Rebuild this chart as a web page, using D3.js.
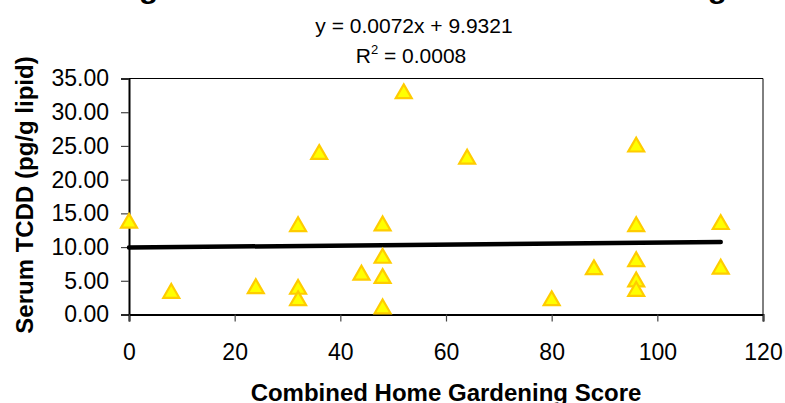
<!DOCTYPE html>
<html>
<head>
<meta charset="utf-8">
<script src="https://cdn.jsdelivr.net/npm/d3@7.9.0/dist/d3.min.js"></script>
<style>
  body { margin: 0; background: #fff; }
  svg { display: block; font-family: Arial, "Liberation Sans", sans-serif; }
</style>
</head>
<body>
<svg id="chart" width="785" height="403"></svg>
<script>
// gardening score (x) and serum TCDD (y)
const gardenScore = [0, 8, 24, 32, 32, 32, 36, 44, 48, 48, 48, 48, 52, 64, 80, 88, 96, 96, 96, 96, 96, 112, 112];
const tcdd = [13.9, 3.5, 4.2, 4.1, 2.4, 13.4, 24.1, 6.2, 13.5, 8.7, 5.7, 1.2, 33.1, 23.4, 2.4, 7.0, 25.2, 13.4, 8.2, 5.2, 3.8, 13.7, 7.1];

const xTicks = [0, 20, 40, 60, 80, 100, 120];
const yTicks = [0, 5, 10, 15, 20, 25, 30, 35];

const slope = 0.0072;
const intercept = 9.9321;
const eqText = "y = 0.0072x + 9.9321";
const r2Value = "0.0008";

const titleText = "Regression of Serum TCDD vs. Gardening";
const xTitle = "Combined Home Gardening Score";
const yTitle = "Serum TCDD (pg/g lipid)";

const svg = d3.select('#chart');
const plotL = 129, plotR = 763, plotT = 78.5, plotB = 314.5;

let x = d3.scaleLinear().domain([0, 120]).range([plotL, plotR]);
let y = d3.scaleLinear().domain([0, 35]).range([plotB, plotT]);

// title, mostly cut off at the top of the picture
svg.append('text')
    .attr('x', 99).attr('y', -2)
    .attr('font-size', 28).attr('font-weight', 'bold')
    .attr('textLength', 628).attr('lengthAdjust', 'spacingAndGlyphs')
    .text(titleText);

// frame top/right
svg.append('path')
    .attr('d', `M${plotL},${plotT}H${plotR}V${plotB}`)
    .attr('fill', 'none').attr('stroke', '#000').attr('stroke-width', 1);

// y axis
let yAxis = d3.axisLeft(y).tickValues(yTicks).tickFormat(d3.format('.2f')).tickSize(8).tickPadding(12);
let gy = svg.append('g').attr('transform', `translate(${plotL},0)`).call(yAxis);
gy.select('.domain').attr('stroke-width', 2);
gy.selectAll('.tick line').attr('stroke', '#444').attr('stroke-width', 1.2);
gy.selectAll('.tick text').attr('font-size', 23).attr('font-family', 'Arial, "Liberation Sans", sans-serif').attr('fill', '#000');

// x axis
let xAxis = d3.axisBottom(x).tickValues(xTicks).tickSize(7).tickPadding(22);
let gx = svg.append('g').attr('transform', `translate(0,${plotB})`).call(xAxis);
gx.select('.domain').attr('stroke-width', 2);
gx.selectAll('.tick line').attr('stroke', '#444').attr('stroke-width', 1.2);
gx.selectAll('.tick text').attr('font-size', 23).attr('font-family', 'Arial, "Liberation Sans", sans-serif').attr('fill', '#000');

// trend line
let xExt = d3.extent(gardenScore);
let line = d3.line().x(d => x(d)).y(d => y(slope * d + intercept));
svg.append('path')
    .attr('d', line(xExt))
    .attr('fill', 'none').attr('stroke', '#000')
    .attr('stroke-width', 4.5).attr('stroke-linecap', 'round');

// markers (d3 triangle sits on its centroid, nudge so the box is centred)
let tri = d3.symbol().type(d3.symbolTriangle).size(110);
svg.selectAll('.pt')
    .data(gardenScore)
    .join('path')
    .attr('class', 'pt')
    .attr('d', tri)
    .attr('transform', (d, i) => `translate(${x(d)},${y(tcdd[i]) + 2.3})`)
    .attr('fill', '#ffff00').attr('stroke', '#ffcc00').attr('stroke-width', 2.2)
    .attr('stroke-linejoin', 'miter');

// regression equation
svg.append('text')
    .attr('x', 414).attr('y', 33).attr('text-anchor', 'middle')
    .attr('font-size', 21).text(eqText);
let r2 = svg.append('text')
    .attr('x', 411).attr('y', 63).attr('text-anchor', 'middle')
    .attr('font-size', 21);
r2.append('tspan').text('R');
r2.append('tspan').attr('font-size', 13).attr('dy', -9).text('2');
r2.append('tspan').attr('dy', 9).text(' = ' + r2Value);

// axis titles
svg.append('text')
    .attr('x', (plotL + plotR) / 2).attr('y', 401).attr('text-anchor', 'middle')
    .attr('font-size', 24).attr('font-weight', 'bold').text(xTitle);
svg.append('text')
    .attr('transform', 'translate(33,195) rotate(-90)').attr('text-anchor', 'middle')
    .attr('font-size', 24).attr('font-weight', 'bold').text(yTitle);
</script>
</body>
</html>
